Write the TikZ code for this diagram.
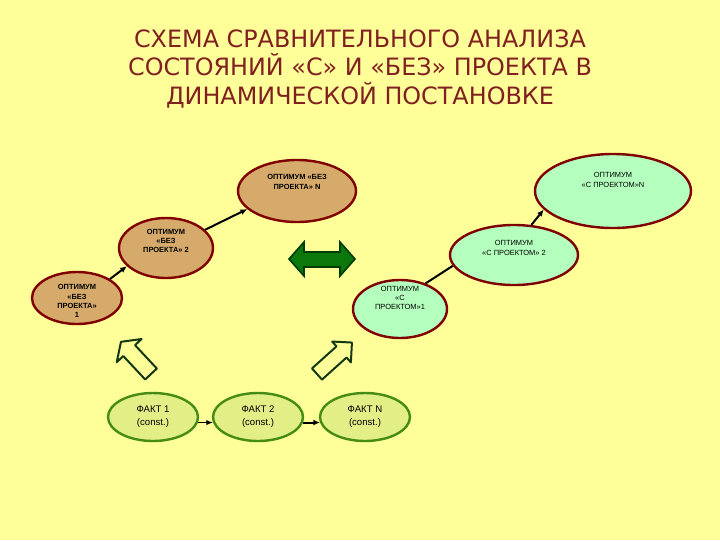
\documentclass[tikz,border=0pt]{standalone}
\usepackage{fontspec}
\setmainfont{Liberation Sans}
\newfontfamily\titlefont{DejaVu Sans}
\usetikzlibrary{shapes.geometric,arrows.meta}
\definecolor{bg}{RGB}{255,255,153}
\definecolor{titlered}{RGB}{128,32,32}
\definecolor{brownfill}{RGB}{214,170,106}
\definecolor{greenfill}{RGB}{180,255,190}
\definecolor{darkred}{RGB}{128,0,0}
\definecolor{factfill}{RGB}{226,238,134}
\definecolor{factborder}{RGB}{70,140,20}
\definecolor{arrowgreen}{RGB}{10,120,10}
\definecolor{arrowdark}{RGB}{0,60,0}
\definecolor{outlinegreen}{RGB}{20,55,20}
\tikzset{
  ellbase/.style={ellipse, draw=darkred, line width=1.8pt, inner sep=0pt},
  withoutbox/.style={ellbase, fill=brownfill},
  withbox/.style={ellbase, fill=greenfill},
  factbox/.style={ellipse, draw=factborder, fill=factfill, line width=1.8pt, inner sep=0pt,
    minimum width=67.5pt, minimum height=36pt, align=center,
    font=\fontsize{7.2}{9.6}\selectfont},
  leftlabel/.style={align=center, inner sep=0pt, font=\fontsize{5.6}{6.9}\selectfont\bfseries},
  rightlabel/.style={align=center, inner sep=0pt, font=\fontsize{5.6}{6.9}\selectfont},
  conn/.style={line width=1.5pt, -{Latex[length=5pt,width=4.5pt]}},
  outlinearrow/.style={draw=outlinegreen, line width=1.5pt, line join=round}
}
\begin{document}
\begin{tikzpicture}[x=0.75pt,y=0.75pt]
\fill[bg] (0,0) rectangle (720,-540);
\useasboundingbox (0,0) rectangle (720,-540);

\node[text=titlered, align=center, font=\titlefont\fontsize{17.9}{21.6}\selectfont] (title) at (360,-69)
  {СХЕМА СРАВНИТЕЛЬНОГО АНАЛИЗА\\СОСТОЯНИЙ «С» И «БЕЗ» ПРОЕКТА В\\ДИНАМИЧЕСКОЙ ПОСТАНОВКЕ};

% ellipses
\node[withoutbox, minimum width=67.5pt, minimum height=39pt] (e1) at (77,-298) {};
\node[withoutbox, minimum width=70.5pt, minimum height=45pt] (e2) at (166,-248) {};
\node[withoutbox, minimum width=88.5pt, minimum height=46.5pt] (e3) at (297,-191) {};
\node[withbox, minimum width=70.5pt, minimum height=43.5pt] (e4) at (400,-309) {};
\node[withbox, minimum width=96pt, minimum height=45pt] (e5) at (514,-255) {};
\node[withbox, minimum width=117pt, minimum height=55.5pt] (e6) at (613,-191) {};

\node[leftlabel] (t1) at (77,-301) {ОПТИМУМ\\«БЕЗ\\ПРОЕКТА»\\1};
\node[leftlabel] (t2) at (166,-241) {ОПТИМУМ\\«БЕЗ\\ПРОЕКТА» 2};
\node[leftlabel] (t3) at (297,-182) {ОПТИМУМ «БЕЗ\\ПРОЕКТА» N};
\node[rightlabel] (t4) at (400,-298) {ОПТИМУМ\\«С\\ПРОЕКТОМ»1};
\node[rightlabel] (t5) at (514,-248) {ОПТИМУМ\\«С ПРОЕКТОМ» 2};
\node[rightlabel] (t6) at (613,-180) {ОПТИМУМ\\«С ПРОЕКТОМ»N};

% connectors
\draw[conn] (e1.30) -- (e2.205);
\draw[conn] (e2.25) -- (e3.200);
\draw[line width=1.5pt] (e4.45) -- (e5.190);
\draw[conn] (e5.60) -- (e6.195);

% double arrow
\draw[fill=arrowgreen, draw=arrowdark, line width=1.2pt, line join=miter]
  (289,-259) -- (304,-242) -- (304,-252) -- (340,-252) -- (340,-242) -- (355,-259)
  -- (340,-276) -- (340,-267) -- (304,-267) -- (304,-276) -- cycle;

% outline arrows
\begin{scope}[shift={(151,-374)}, rotate=133]
  \draw[outlinearrow] (0,-8) -- (32,-8) -- (32,-17) -- (44,0) -- (32,17) -- (32,8) -- (0,8) -- cycle;
\end{scope}
\begin{scope}[shift={(317,-374)}, rotate=42]
  \draw[outlinearrow] (0,-7.5) -- (33,-7.5) -- (33,-14) -- (47,0) -- (33,14) -- (33,7.5) -- (0,7.5) -- cycle;
\end{scope}

% facts
\node[factbox] (f1) at (153,-417) {ФАКТ 1\\(const.)};
\node[factbox] (f2) at (258,-417) {ФАКТ 2\\(const.)};
\node[factbox] (f3) at (365,-417) {ФАКТ N\\(const.)};
\draw[line width=0.8pt, -{Latex[length=5pt,width=4pt]}] (f1.-7) -- (f2.187);
\draw[line width=1.5pt, -{Latex[length=5pt,width=4.5pt]}] (f2.-7) -- (f3.187);
\end{tikzpicture}
\end{document}
